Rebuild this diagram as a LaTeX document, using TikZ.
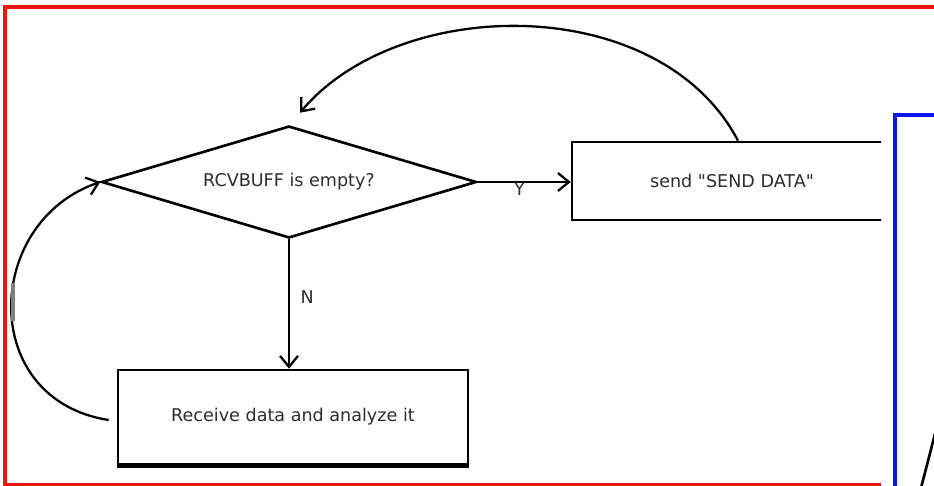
\documentclass[tikz,border=0pt]{standalone}
\usepackage{fontspec}
\setmainfont{DejaVu Sans}
\usetikzlibrary{shapes.geometric, arrows.meta, positioning, calc}
\definecolor{FrameRed}{RGB}{240, 20, 20}
\definecolor{PanelBlue}{RGB}{10, 20, 240}
\definecolor{FlowText}{RGB}{45, 45, 45}

\tikzset{
  flowtext/.style={font=\fontsize{10}{12}\selectfont, text=FlowText},
  flowbox/.style={draw, line width=1.5pt, flowtext, inner sep=0pt},
  decision/.style={draw, diamond, line width=1.5pt, flowtext,
    aspect=3.3, inner sep=0pt, minimum width=7.5cm, minimum height=2.24cm},
  flow/.style={line width=1.3pt, -{Straight Barb[length=2.2mm, width=3.6mm, line width=1.3pt]}},
  flowlabel/.style={flowtext, inner sep=1pt}
}

\begin{document}
\begin{tikzpicture}[x=0.02cm, y=-0.02cm]
    \useasboundingbox (0,0) rectangle (934,486);

    % outer frames
    \draw[FrameRed, line width=2.3pt] (934,7) -- (5,7) -- (5,485) -- (881,485);
    \draw[PanelBlue, line width=2.3pt] (934,115) -- (895,115) -- (895,488);
    \draw[line width=1.5pt] (936,430) -- (921,488);

    % flow nodes
    \node[decision] (chk) at (289,182) {RCVBUFF is empty?};
    \node[flowbox, minimum width=7cm, minimum height=1.88cm] (rcv) at (293,417) {Receive data and analyze it};
    \begin{scope}
      \clip (0,0) rectangle (881,486);
      \node[flowbox, minimum width=6.4cm, minimum height=1.56cm] (snd) at (732,181) {send \textquotedbl SEND DATA\textquotedbl};
    \end{scope}
    \draw[line width=2.6pt] (rcv.south west) -- (rcv.south east);

    % connectors
    \draw[flow] (chk.east) -- (chk.east -| snd.west)
      node[flowlabel, pos=0.45, below=-1pt] (yes) {Y};
    \draw[flow] (chk.south) -- (chk.south |- rcv.north)
      node[flowlabel, pos=0.45, right=5pt] (no) {N};

    \coordinate (back) at ($(chk.north)+(11,-12)$);
    \draw[flow] ($(snd.north)+(6,0)$) .. controls (660,-8) and (400,-6) .. (back);
    \coordinate (loop) at ($(rcv.west)+(-8,3)$);
    \draw[flow] (loop) .. controls (-22,400) and (-17,222) .. (chk.west);
    \draw[gray, line width=2pt] (13,283) -- (13,321);
\end{tikzpicture}
\end{document}
